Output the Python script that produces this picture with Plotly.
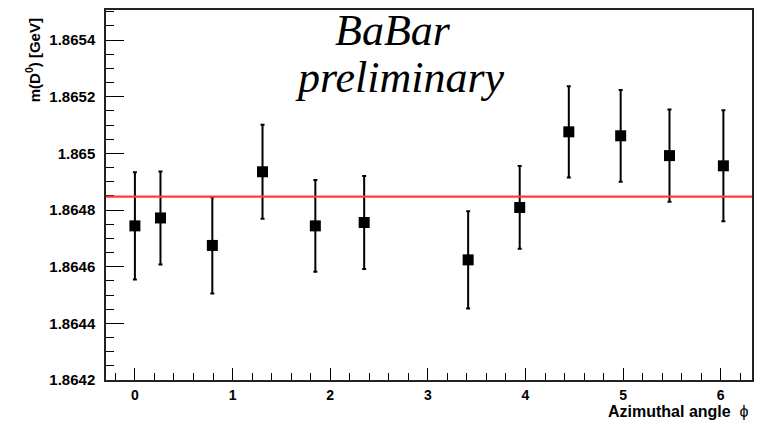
import plotly.graph_objects as go

# Data
phi = [0.0, 0.262, 0.793, 1.307, 1.848, 2.348, 3.413, 3.941, 4.444, 4.975, 5.475, 6.027]
mass = [1.864744, 1.864772, 1.864675, 1.864935, 1.864744, 1.864756,
        1.864624, 1.864809, 1.865076, 1.865062, 1.864992, 1.864956]
mass_err = [0.000189, 0.000164, 0.000170, 0.000166, 0.000162, 0.000164,
            0.000172, 0.000146, 0.000161, 0.000162, 0.000163, 0.000196]
fit_value = 1.864847

x_tickvals = [0, 1, 2, 3, 4, 5, 6]
y_tickvals = [1.8642, 1.8644, 1.8646, 1.8648, 1.865, 1.8652, 1.8654]
y_ticktext = ["1.8642", "1.8644", "1.8646", "1.8648", "1.865", "1.8652", "1.8654"]

W, H = 762, 421
L, R, T, B = 106, 8, 10, 41
pw = W - L - R
ph = H - T - B

def px(x):
    return (x - L) / pw

def py(y):
    return 1 - (y - T) / ph

fig = go.Figure()
fig.add_trace(go.Scatter(
    x=phi, y=mass, mode="markers",
    marker=dict(symbol="square", size=11, color="black"),
    error_y=dict(type="data", array=mass_err, visible=True,
                 color="black", thickness=2, width=2),
    showlegend=False,
))

fig.add_shape(type="line", xref="paper", x0=0, x1=1, yref="y",
              y0=fit_value, y1=fit_value,
              line=dict(color="#ff3b3b", width=2.2))

fig.update_layout(
    width=W, height=H,
    margin=dict(l=L, r=R, t=T, b=B, pad=0),
    paper_bgcolor="white", plot_bgcolor="white",
    xaxis=dict(
        range=[-0.296, 6.32], tickvals=x_tickvals,
        ticks="inside", ticklen=12, tickwidth=1, tickcolor="black",
        minor=dict(dtick=0.2, tick0=0, ticks="inside", ticklen=7, tickcolor="black"),
        showgrid=False, zeroline=False,
        showline=True, mirror=True, linecolor="#222", linewidth=1.5,
        tickfont=dict(family="Liberation Sans", size=14, color="black", weight="bold"),
        ticklabelstandoff=1,
    ),
    yaxis=dict(
        range=[1.8642, 1.865506], tickvals=y_tickvals, ticktext=y_ticktext,
        ticks="inside", ticklen=18, tickwidth=1, tickcolor="black",
        minor=dict(dtick=0.00005, tick0=1.8642, ticks="inside", ticklen=8, tickcolor="black"),
        showgrid=False, zeroline=False,
        showline=True, mirror=True, linecolor="#222", linewidth=1.5,
        tickfont=dict(family="Liberation Sans", size=15, color="black", weight="bold"),
        ticklabelstandoff=6,
    ),
)

fig.add_annotation(text="m(D<sup>0</sup>) [GeV]", xref="paper", yref="paper",
                   x=px(33), y=py(60), xanchor="center", yanchor="middle",
                   textangle=-90, showarrow=False,
                   font=dict(family="Liberation Sans", size=15, color="black", weight="bold"))

fig.add_annotation(text="<b>Azimuthal angle</b>  ϕ", xref="paper", yref="paper",
                   x=px(753), y=py(411), xanchor="right", yanchor="middle",
                   showarrow=False,
                   font=dict(family="Liberation Sans", size=16, color="black"))

fig.add_annotation(text="<i>BaBar</i>", xref="paper", yref="paper",
                   x=px(394), y=py(30.5), xanchor="center", yanchor="middle",
                   showarrow=False,
                   font=dict(family="Liberation Serif", size=44, color="black"))
fig.add_annotation(text="<i>preliminary</i>", xref="paper", yref="paper",
                   x=px(401), y=py(77), xanchor="center", yanchor="middle",
                   showarrow=False,
                   font=dict(family="Liberation Serif", size=44, color="black"))

fig.write_html("out.html")
